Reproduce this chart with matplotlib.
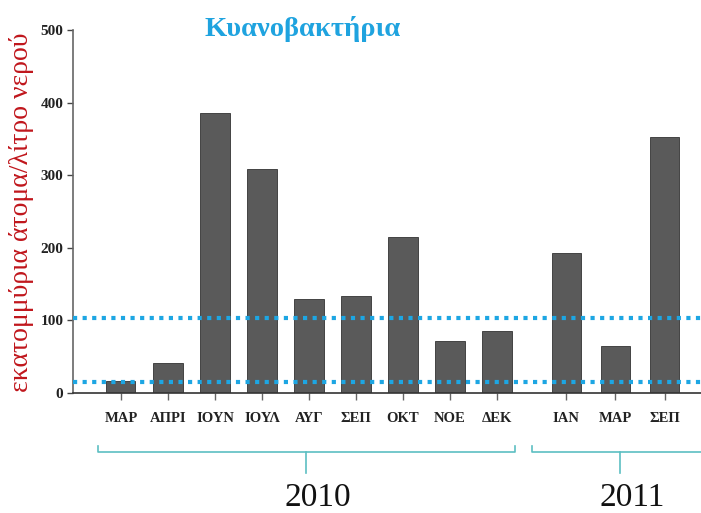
import matplotlib.pyplot as plt
import matplotlib.transforms as mtransforms
import numpy as np

# values (million cells / litre)
months_2010 = ["ΜΑΡ", "ΑΠΡΙ", "ΙΟΥΝ", "ΙΟΥΛ", "ΑΥΓ", "ΣΕΠ", "ΟΚΤ", "ΝΟΕ", "ΔΕΚ"]
values_2010 = [16, 41, 386, 308, 129, 134, 215, 72, 86]
months_2011 = ["ΙΑΝ", "ΜΑΡ", "ΣΕΠ"]
values_2011 = [193, 65, 352]
limits = [15, 103]
years = ["2010", "2011"]

bar_col = "#5a5a5a"
dot_col = "#1da6e3"
brk_col = "#5cbfc2"


def plot():
    fig = plt.figure(figsize=(7.01, 5.13), dpi=100)
    ax = fig.add_axes([0.1041, 0.2339, 0.8959, 0.7076])

    x10 = np.arange(len(months_2010))
    x11 = 9.47 + np.arange(len(months_2011)) * 1.05
    xs = np.concatenate([x10, x11])
    vals = values_2010 + values_2011
    labels = months_2010 + months_2011

    ax.bar(xs, vals, width=0.62, color=bar_col, edgecolor="#333333", linewidth=0.6, zorder=2)
    for lim in limits:
        ax.axhline(lim, color=dot_col, linewidth=3.0, linestyle=(0, (1, 1.3)),
                   dash_capstyle="butt", zorder=3)

    ax.set_xlim(-1.02, 12.34)
    ax.set_ylim(0, 500)
    ax.set_yticks([0, 100, 200, 300, 400, 500])
    ax.set_xticks(xs)
    ax.set_xticklabels(labels, family="Liberation Serif", fontsize=10.5,
                       fontweight="bold", color="#222222")
    for t in ax.get_yticklabels():
        t.set_family("Liberation Serif")
        t.set_fontsize(11)
        t.set_fontweight("bold")
        t.set_color("#222222")
    ax.tick_params(axis="x", length=5, width=1, color="#666666", pad=9)
    ax.tick_params(axis="y", length=4, width=1, color="#444444", pad=3)
    for s in ["top", "right"]:
        ax.spines[s].set_visible(False)
    ax.spines["left"].set_color("#666666")
    ax.spines["bottom"].set_color("#333333")
    ax.spines["left"].set_linewidth(1.2)
    ax.spines["bottom"].set_linewidth(1.2)

    fig.text(0.031, 0.587, "εκατομμύρια άτομα/λίτρο νερού", rotation=90, ha="center", va="center",
             family="Liberation Serif", fontsize=20, color="#c0161c")
    fig.text(0.432, 0.943, "Κυανοβακτήρια", ha="center", va="center",
             family="Liberation Serif", fontsize=20.5, fontweight="bold", color="#1fa3df")

    # year brackets under the month labels
    tr = mtransforms.blended_transform_factory(ax.transData, fig.transFigure)
    spans = [(-0.49, 8.38), (8.74, 12.5)]
    for (a, b), yr in zip(spans, years):
        mid = (a + b) / 2
        ax.plot([a, a, b, b], [0.1306, 0.1189, 0.1189, 0.1306], color=brk_col,
                linewidth=1.2, transform=tr, clip_on=False)
        ax.plot([mid, mid], [0.1189, 0.078], color=brk_col, linewidth=1.2,
                transform=tr, clip_on=False)
        ax.text(mid + 0.25, 0.029, yr, transform=tr, ha="center", va="center",
                family="Liberation Serif", fontsize=24, color="#111111")

    fig.savefig("out.png", dpi=100)


if __name__ == "__main__":
    plot()
